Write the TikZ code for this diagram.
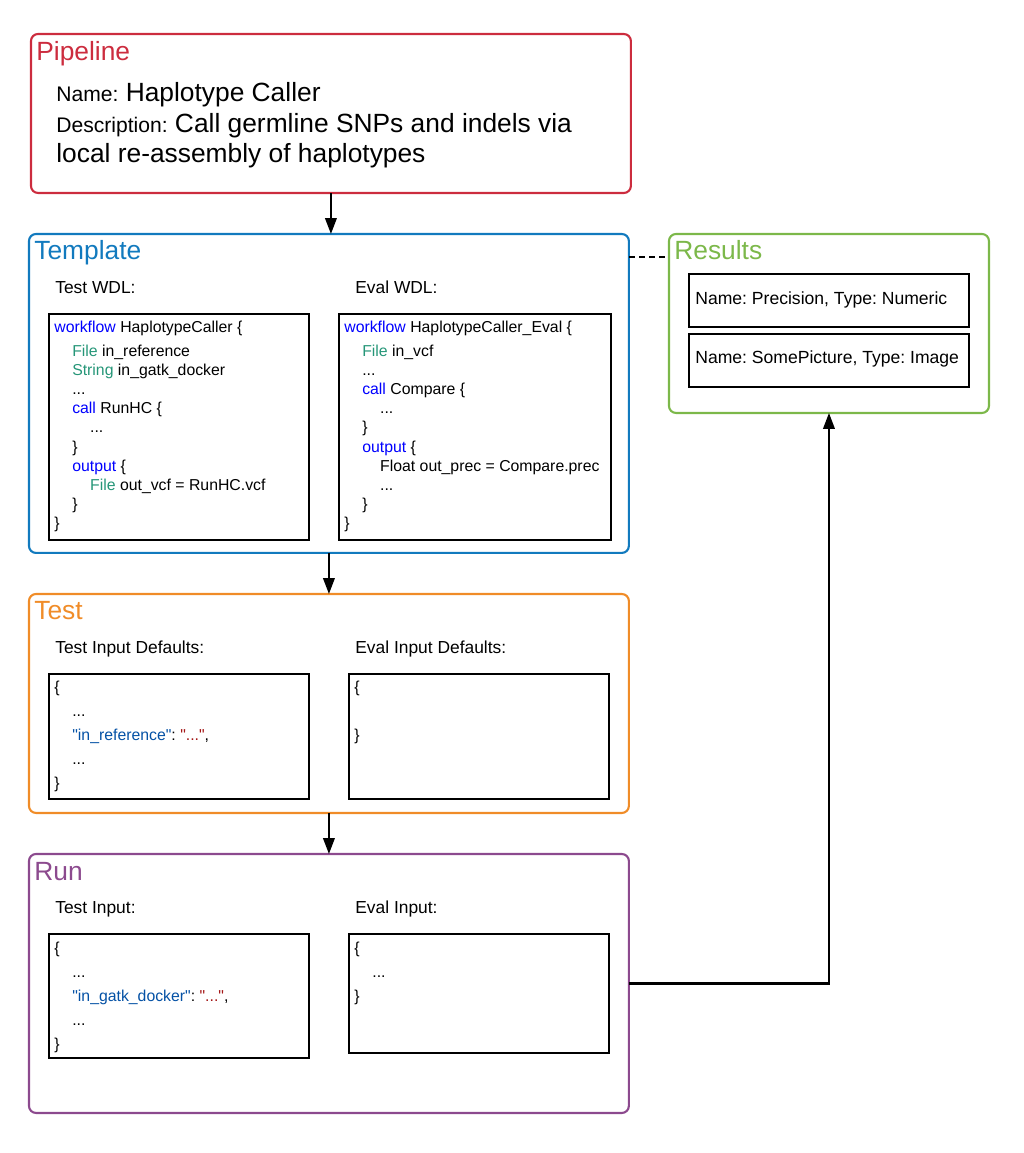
\documentclass[tikz,border=0pt]{standalone}
\usepackage{fontspec}
\setmainfont{Liberation Sans}[Ligatures=TeXOff]
\usetikzlibrary{arrows.meta}
\frenchspacing

\definecolor{pipecol}{RGB}{204,44,62}
\definecolor{tplcol}{RGB}{18,122,190}
\definecolor{testcol}{RGB}{240,140,40}
\definecolor{runcol}{RGB}{140,74,142}
\definecolor{rescol}{RGB}{124,184,74}
\definecolor{kwblue}{RGB}{0,0,255}
\definecolor{typegreen}{RGB}{38,150,120}
\definecolor{keyblue}{RGB}{4,81,165}
\definecolor{strred}{RGB}{163,21,21}

\newcommand{\kw}[1]{\textcolor{kwblue}{#1}}
\newcommand{\ty}[1]{\textcolor{typegreen}{#1}}
\newcommand{\jkey}[1]{\textcolor{keyblue}{#1}}
\newcommand{\jstr}[1]{\textcolor{strred}{#1}}
\newcommand{\more}{...}
\newcommand{\namefont}{\fontsize{12}{14}\selectfont}
\newcommand{\ind}{\hspace*{10.2pt}}

\tikzset{
  panel/.style={draw, line width=1.2pt, rounded corners=4pt, inner sep=0pt, outer sep=0pt, anchor=north west},
  codebox/.style={draw, line width=1.1pt, inner sep=0pt, outer sep=0pt, anchor=north west},
  paneltitle/.style={anchor=base west, inner sep=0pt, font=\fontsize{15}{18}\selectfont},
  bigtext/.style={anchor=base west, inner sep=0pt, font=\fontsize{15}{18}\selectfont},
  boxlabel/.style={anchor=base west, inner sep=0pt, font=\fontsize{9.9}{12}\selectfont},
  reslabel/.style={anchor=base west, inner sep=0pt, font=\fontsize{10}{12}\selectfont},
  codetext/.style={anchor=base west, inner sep=0pt, font=\fontsize{9}{11}\selectfont},
  flow/.style={line width=1.2pt, -{Triangle[length=9pt,width=6.5pt]}}
}

\begin{document}
\begin{tikzpicture}[x=0.02cm, y=-0.02cm]
    \useasboundingbox (0,0) rectangle (1024,1153);

    % Pipeline
    \node[panel, draw=pipecol, minimum width=12cm, minimum height=3.18cm] (pipeline) at (31,34) {};
    \node[paneltitle, text=pipecol] (pipeline-title) at (36,60) {Pipeline};
    \node[bigtext] (pipe-name) at (56,101) {{\namefont Name:} Haplotype Caller};
    \node[bigtext] (pipe-desc) at (56,132) {{\namefont Description:} Call germline SNPs and indels via};
    \node[bigtext] (pipe-desc2) at (56,162) {local re-assembly of haplotypes};

    % Template
    \node[panel, draw=tplcol, minimum width=12cm, minimum height=6.38cm] (template) at (29,234) {};
    \node[paneltitle, text=tplcol] (template-title) at (34,259.5) {Template};
    \node[boxlabel] (testwdl-label) at (55,293.5) {Test WDL:};
    \node[boxlabel] (evalwdl-label) at (355,293.5) {Eval WDL:};
    \node[codebox, minimum width=5.2cm, minimum height=4.52cm] (testwdl) at (49,314) {};
    \node[codebox, minimum width=5.44cm, minimum height=4.52cm] (evalwdl) at (339,314) {};

    \node[codetext] (testwdl-0) at (54,332) {\kw{workflow} HaplotypeCaller \{};
    \foreach \ln [count=\i] in {
        {\ind\ty{File} in\_reference},
        {\ind\ty{String} in\_gatk\_docker},
        {\ind\more},
        {\ind\kw{call} RunHC \{},
        {\ind\ind\more},
        {\ind\}},
        {\ind\kw{output} \{},
        {\ind\ind\ty{File} out\_vcf = RunHC.vcf},
        {\ind\}},
        {\}}}
        \node[codetext] (testwdl-\i) at (54,{356+19.2*(\i-1)}) {\ln};

    \node[codetext] (evalwdl-0) at (344,332) {\kw{workflow} HaplotypeCaller\_Eval \{};
    \foreach \ln [count=\i] in {
        {\ind\ty{File} in\_vcf},
        {\ind\more},
        {\ind\kw{call} Compare \{},
        {\ind\ind\more},
        {\ind\}},
        {\ind\kw{output} \{},
        {\ind\ind Float out\_prec = Compare.prec},
        {\ind\ind\more},
        {\ind\}},
        {\}}}
        \node[codetext] (evalwdl-\i) at (344,{356+19.2*(\i-1)}) {\ln};

    % Results
    \node[panel, draw=rescol, minimum width=6.4cm, minimum height=3.58cm] (results) at (669,234) {};
    \node[paneltitle, text=rescol] (results-title) at (674,259.5) {Results};
    \node[codebox, minimum width=5.6cm, minimum height=1.06cm] (res-1) at (689,274) {};
    \node[codebox, minimum width=5.6cm, minimum height=1.06cm] (res-2) at (689,334) {};
    \node[reslabel] (res-1-text) at (695,304) {Name: Precision, Type: Numeric};
    \node[reslabel] (res-2-text) at (695,363.5) {Name: SomePicture, Type: Image};

    % Test
    \node[panel, draw=testcol, minimum width=12cm, minimum height=4.38cm] (test) at (29,594) {};
    \node[paneltitle, text=testcol] (test-title) at (34,619.5) {Test};
    \node[boxlabel] (testdef-label) at (55,653.5) {Test Input Defaults:};
    \node[boxlabel] (evaldef-label) at (355,653.5) {Eval Input Defaults:};
    \node[codebox, minimum width=5.2cm, minimum height=2.5cm] (testdef) at (49,674) {};
    \node[codebox, minimum width=5.2cm, minimum height=2.5cm] (evaldef) at (349,674) {};
    \node[codetext] (testdef-0) at (54,692.5) {\{};
    \node[codetext] (testdef-1) at (72,716.5) {\more};
    \node[codetext] (testdef-2) at (72,740.5) {\jkey{"in\_reference"}: \jstr{"\more"},};
    \node[codetext] (testdef-3) at (72,764.5) {\more};
    \node[codetext] (testdef-4) at (54,788.5) {\}};
    \node[codetext] (evaldef-0) at (354,692.5) {\{};
    \node[codetext] (evaldef-1) at (354,740.5) {\}};

    % Run
    \node[panel, draw=runcol, minimum width=12cm, minimum height=5.18cm] (run) at (29,854) {};
    \node[paneltitle, text=runcol] (run-title) at (34,880) {Run};
    \node[boxlabel] (testin-label) at (55,913.5) {Test Input:};
    \node[boxlabel] (evalin-label) at (355,913.5) {Eval Input:};
    \node[codebox, minimum width=5.2cm, minimum height=2.48cm] (testin) at (49,934) {};
    \node[codebox, minimum width=5.2cm, minimum height=2.38cm] (evalin) at (349,934) {};
    \node[codetext] (testin-0) at (54,953) {\{};
    \node[codetext] (testin-1) at (72,977) {\more};
    \node[codetext] (testin-2) at (72,1001) {\jkey{"in\_gatk\_docker"}: \jstr{"\more"},};
    \node[codetext] (testin-3) at (72,1025) {\more};
    \node[codetext] (testin-4) at (54,1049) {\}};
    \node[codetext] (evalin-0) at (354,953) {\{};
    \node[codetext] (evalin-1) at (372,977) {\more};
    \node[codetext] (evalin-2) at (354,1001) {\}};

    % connectors
    \coordinate (tpl-link) at (629,257);
    \draw[flow] (pipeline.south) -- (pipeline.south |- template.north);
    \draw[flow] (template.south) -- (test.north);
    \draw[flow] (test.south) -- (run.north);
    \draw[line width=1pt, dash pattern=on 3.4pt off 2.3pt] (tpl-link) -- (tpl-link -| results.west);
    \draw[flow] (run.east) -| (results.south);

\end{tikzpicture}
\end{document}
